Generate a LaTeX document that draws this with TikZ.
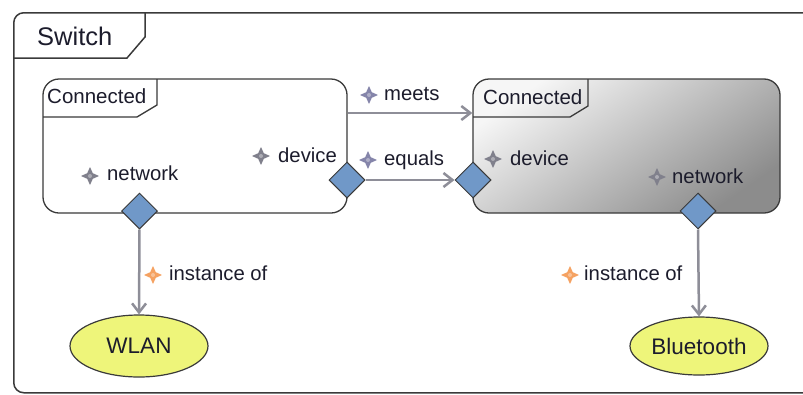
\documentclass[tikz,border=0pt]{standalone}
\usepackage{fontspec}
\setmainfont{Liberation Sans}
\usetikzlibrary{shapes.geometric,arrows.meta}
\definecolor{txtc}{HTML}{1C1C2C}
\definecolor{boxc}{HTML}{3A3A3A}
\definecolor{portc}{HTML}{7098C8}
\definecolor{instc}{HTML}{EEF57A}
\definecolor{arrc}{HTML}{8E8E98}
\definecolor{propc}{HTML}{80808C}
\definecolor{relc}{HTML}{8585AA}
\definecolor{orangec}{HTML}{F5A262}
\definecolor{shadec}{HTML}{8C8C8C}
\definecolor{shadetop}{HTML}{F6F6F6}
\begin{document}
\begin{tikzpicture}[x=1pt,y=-1pt]
\tikzset{
 txt/.style={text=txtc, inner sep=0pt},
 lbl/.style={txt, font=\fontsize{20.3}{24}\selectfont, anchor=base west},
 title/.style={txt, font=\fontsize{20.5}{24}\selectfont, anchor=base west},
 box/.style={draw=boxc, line width=1.3pt, rounded corners=16pt, inner sep=0pt},
 tab/.style={draw=boxc, line width=1.3pt},
 port/.style={diamond, draw=boxc, fill=portc, line width=1pt, minimum width=36pt, minimum height=36pt, inner sep=0pt},
 inst/.style={ellipse, draw=boxc, fill=instc, line width=1.2pt, inner sep=0pt, font=\fontsize{22.5}{26}\selectfont, text=txtc},
 arr/.style={draw=arrc, line width=2.5pt, -{Straight Barb[length=9pt,width=14pt]}},
 pics/pstar/.style={code={\fill[#1] (0,-9)--(2.8,-2.8)--(9,0)--(2.8,2.8)--(0,9)--(-2.8,2.8)--(-9,0)--(-2.8,-2.8)--cycle;
   \fill[white,opacity=0.35] (0,0) circle (2pt);}},
}
\useasboundingbox (0,0) rectangle (803,394);
\clip (0,0) rectangle (803,394);

% outer frame
\node[draw=boxc, line width=1.5pt, rounded corners=10pt, minimum width=820pt, minimum height=380pt, anchor=north west, inner sep=0pt] (switch) at (13,12) {};
\draw[tab, line width=1.5pt] (13,58) -- (127,58) -- (145,37) -- (145,12);
\node[txt, font=\fontsize{25.5}{30}\selectfont, anchor=base west] (switchlbl) at (37,45) {Switch};

% left state
\node[box, fill=white, minimum width=304pt, minimum height=134pt] (boxL) at (195,146) {};
\draw[tab] (157,79) -- (157,105) -- (137,117) -- (43,117);
\node[title] (conL) at (47,103) {Connected};

% right state
\node[box, top color=shadetop, bottom color=shadec, shading angle=35, minimum width=307pt, minimum height=134pt] (boxR) at (626.5,146) {};
\draw[tab] (588,79) -- (588,106) -- (570,117) -- (473,117);
\node[title] (conR) at (483,104) {Connected};

% ports
\node[port] (netL) at (139.5,211) {};
\node[port] (devL) at (347,180) {};
\node[port] (devR) at (473,180) {};
\node[port] (netR) at (698,211) {};

% port labels
\pic at (90,176) {pstar=propc};
\node[lbl] (lnetL) at (107,180) {network};
\pic at (261,156) {pstar=propc};
\node[lbl] (ldevL) at (278,162) {device};
\pic at (493,159) {pstar=propc};
\node[lbl] (ldevR) at (510,165) {device};
\pic at (657,177) {pstar=propc};
\node[lbl] (lnetR) at (672,183) {network};

% instances
\node[inst, minimum width=138pt, minimum height=62pt] (wlan) at (139,346) {WLAN};
\node[inst, minimum width=138pt, minimum height=58pt] (bt) at (699,346) {Bluetooth};

% connectors
\draw[arr] ([yshift=33pt]boxL.east) -- ([yshift=33pt]boxR.west);
\draw[arr] (devL.east) -- (devR.west);
\draw[arr] (netL.south) -- (wlan.north);
\draw[arr] (netR.south) -- (bt.north);

% connector labels
\pic at (369,95) {pstar=relc};
\node[lbl] (lmeets) at (384,100) {meets};
\pic at (368,160) {pstar=relc};
\node[lbl] (lequals) at (384,165) {equals};
\pic at (153,275) {pstar=orangec};
\node[lbl] (linstL) at (169,280) {instance of};
\pic at (570,275) {pstar=orangec};
\node[lbl] (linstR) at (584,280) {instance of};
\end{tikzpicture}
\end{document}
